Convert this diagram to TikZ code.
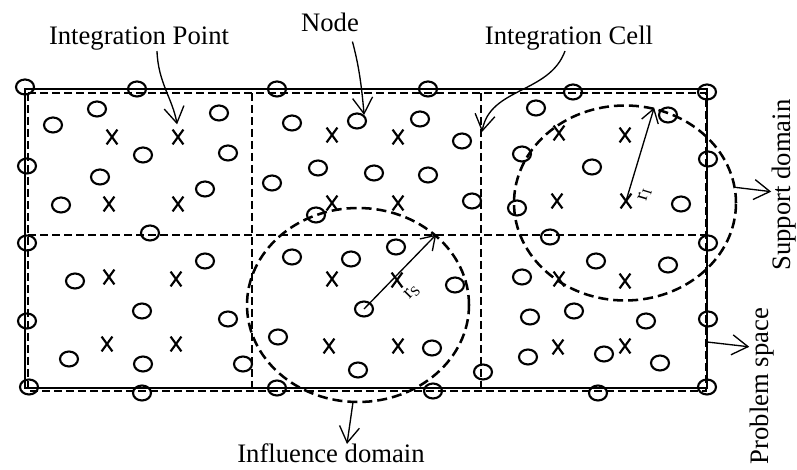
\documentclass[tikz,border=0pt]{standalone}
\usepackage{fontspec}
\setmainfont{Liberation Serif}
\usetikzlibrary{shapes.geometric,shapes.misc,arrows.meta,calc}

\begin{document}
\begin{tikzpicture}[x=0.75pt,y=-0.75pt,
        fieldnode/.style={draw,ellipse,line width=1.6pt,minimum width=13.5pt,minimum height=11.25pt,inner sep=0pt},
        gausspt/.style={draw,cross out,line width=1.6pt,minimum width=6.5pt,minimum height=9.5pt,inner sep=0pt},
        cellline/.style={line width=2pt,dash pattern=on 6pt off 3pt},
        spaceline/.style={line width=1.8pt},
        zone/.style={draw,ellipse,line width=1.9pt,dash pattern=on 7.5pt off 3.75pt,inner sep=0pt},
        pointer/.style={line width=1pt,-{Straight Barb[length=12pt,width=15pt]}},
        radarrow/.style={line width=1pt,-{Straight Barb[length=10pt,width=13pt]}},
        tag/.style={font=\fontsize{20}{24}\selectfont,inner sep=0pt,anchor=base},
        rtag/.style={font=\fontsize{15}{18}\selectfont,inner sep=1pt}]
            \useasboundingbox (0,0) rectangle (797,470);

            \draw[cellline] (28,93) rectangle (706,391);
            \draw[cellline] (252,93) -- (252,391);
            \draw[cellline] (481,93) -- (481,391);
            \draw[cellline] (28,235) -- (706,235);
            \draw[spaceline] (25,89) rectangle (707,388);

            \node[zone,minimum width=166.5pt,minimum height=145.5pt] (infdom) at (358,305) {};
            \node[zone,minimum width=166.5pt,minimum height=146.25pt] (supdom) at (625,203) {};

            \foreach \px/\py [count=\i] in {25/87,137/89,277/89,428/89,573/92,707/92,
                27/166,27/243,27/321,29/387,142/393,277/388,433/391,598/393,707/387,
                708/159,708/243,708/319,150/233,472/201,243/364,316/215,483/372,550/237,
                53/125,97/109,143/155,219/113,228/153,100/177,205/189,61/205,
                292/123,420/119,462/141,318/168,374/173,428/175,272/183,
                536/108,522/154,592/167,668/115,681/204,517/208,
                75/281,142/311,205/261,228/319,69/359,143/364,
                292/257,351/259,396/247,455/285,278/337,432/348,358/370,
                522/277,596/261,668/265,530/317,574/311,646/321,528/357,604/354,660/363}{
                \node[fieldnode] (n\i) at (\px,\py) {};
            }
            \node[fieldnode] (nodept) at (357,121) {};
            \node[fieldnode] (ctrS) at (364,309) {};

            \foreach \px/\py [count=\i] in {112/137,109/204,178/204,
                332/135,398/137,332/203,398/203,559/133,625/135,557/201,
                109/277,176/279,107/344,176/344,332/279,397/280,329/346,398/346,
                559/279,625/281,558/347,625/346}{
                \node[gausspt] (g\i) at (\px,\py) {};
            }
            \node[gausspt] (ipt) at (178,137) {};
            \node[gausspt] (ctrI) at (626,201) {};

            \node[tag] (ipl) at (139,45) {Integration Point};
            \node[tag] (ndl) at (330,32) {Node};
            \node[tag] (icl) at (569,45) {Integration Cell};
            \node[tag] (idl) at (331,463) {Influence domain};
            \node[tag,rotate=90] (sdl) at (790,185) {Support domain};
            \node[tag,rotate=90] (psl) at (768,386) {Problem space};

            \coordinate (cellpt) at (482,132);
            \coordinate (psa) at (707,342);

            \draw[pointer,shorten >=4pt] ([xshift=13.5pt]ipl.south) to[out=-88,in=100] (ipt.north);
            \draw[pointer,shorten <=7pt] ([xshift=15pt]ndl.south) to[out=-75,in=95] (nodept.north east);
            \draw[pointer] ([xshift=-3pt]icl.south) to[out=-110,in=80] (cellpt);
            \draw[pointer] (supdom.8) -- ([yshift=-5pt]sdl.north);
            \draw[pointer] (psa) -- ($(psl.north)!0.5!(psl.north east)$);
            \draw[pointer] (infdom.-93) -- ([xshift=12pt]idl.north);

            \draw[radarrow] (ctrS.center) -- node[rtag,sloped,below=11pt,pos=0.44] {r\textsubscript{S}} (infdom.42);
            \draw[radarrow] (ctrI.center) -- node[rtag,sloped,below=6pt,pos=0.12] {r\textsubscript{I}} (supdom.73);
        \end{tikzpicture}
\end{document}
